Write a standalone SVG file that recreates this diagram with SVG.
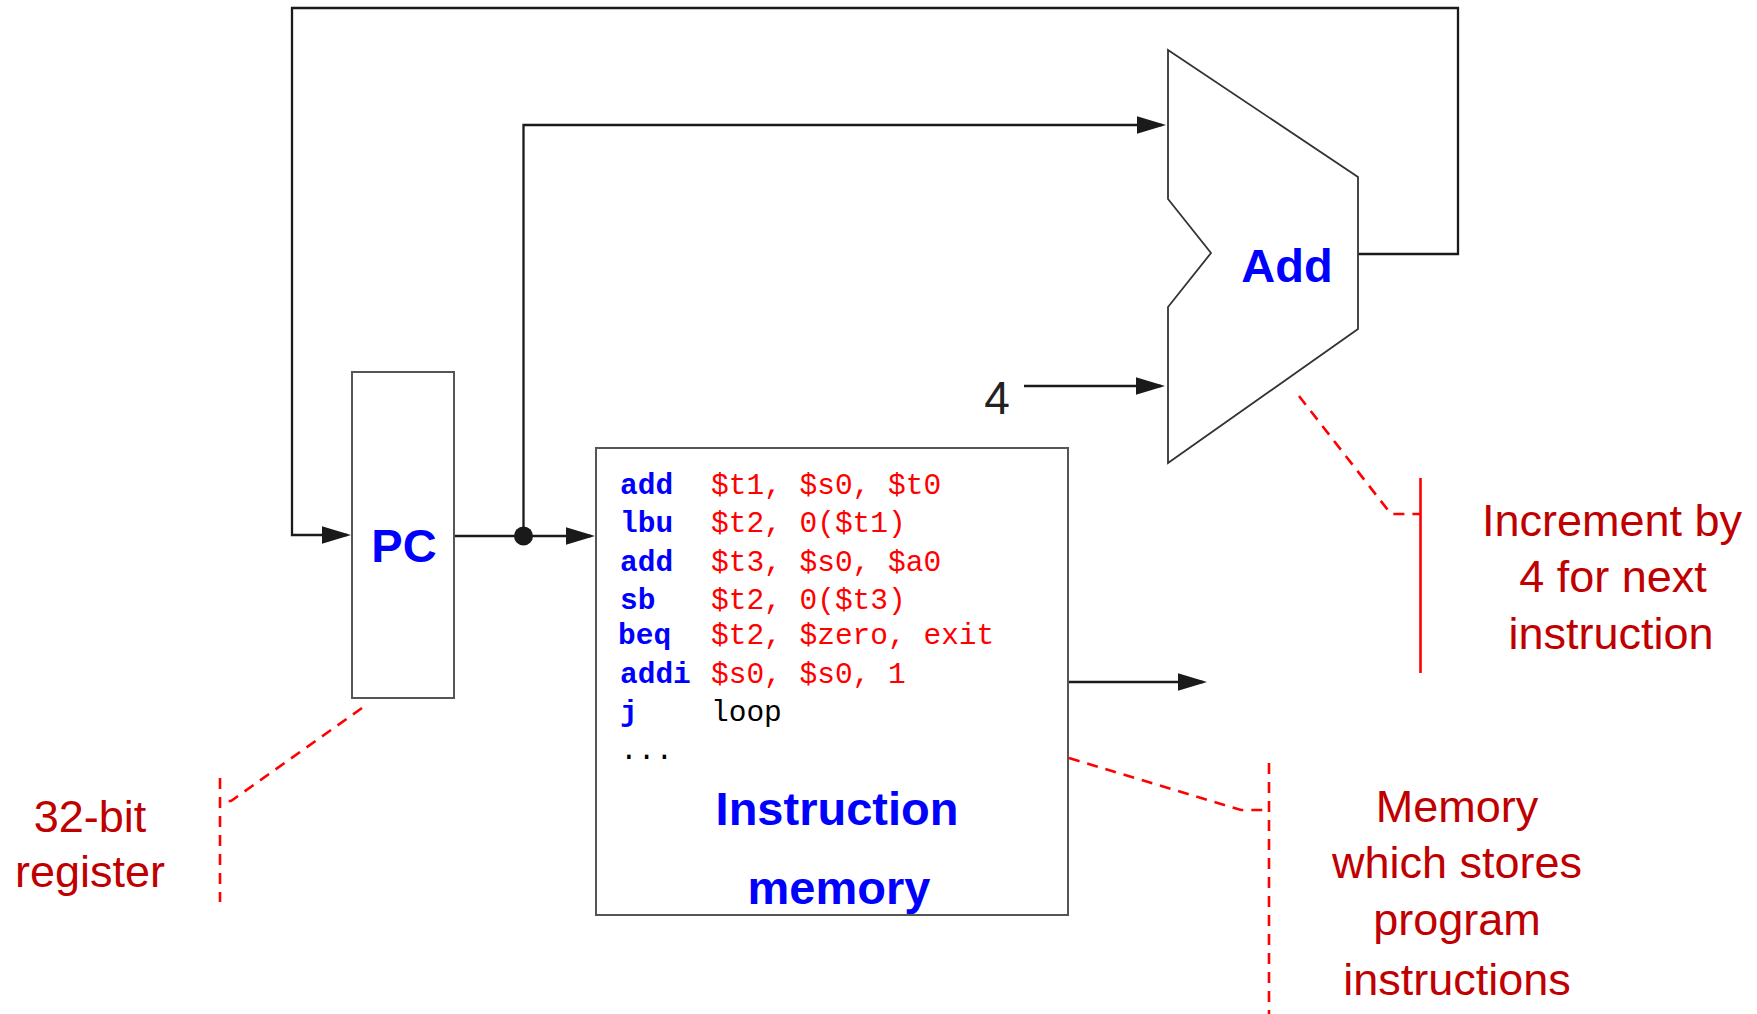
<svg xmlns="http://www.w3.org/2000/svg" width="1757" height="1014" viewBox="0 0 1757 1014">
<style>
.wire{fill:none;stroke:#1a1a1a;stroke-width:2.3}
.box{fill:#fff;stroke:#555;stroke-width:2}
.alu{fill:#fff;stroke:#333;stroke-width:1.8;stroke-linejoin:miter}
.lbl{font-family:"Liberation Sans",Arial,sans-serif;font-weight:bold;fill:#0000ff;font-size:47px;text-anchor:middle}
.op{font-family:"Liberation Mono","Courier New",monospace;font-weight:bold;fill:#0000ff;font-size:29.5px}
.arg{font-family:"Liberation Mono","Courier New",monospace;fill:#ff0000;font-size:29.5px}
.plain{font-family:"Liberation Mono","Courier New",monospace;fill:#000;font-size:29.5px}
.note{font-family:"Liberation Sans",Arial,sans-serif;fill:#c00000;font-size:45px;text-anchor:middle}
.dash{fill:none;stroke:#ff0000;stroke-width:2.6;stroke-dasharray:11 8}
.solid{fill:none;stroke:#ff0000;stroke-width:2.6}
</style>
<defs>
<marker id="arr" markerUnits="userSpaceOnUse" markerWidth="29" markerHeight="18" refX="25" refY="8.75" orient="auto">
<path d="M0,0 L29,8.75 L0,17.5 Z" fill="#1a1a1a"/>
</marker>
</defs>
<rect width="1757" height="1014" fill="#fff"/>

<g id="connectors">
<polyline class="wire" points="1358,254 1458,254 1458,8 292,8 292,535 347,535" marker-end="url(#arr)"/>
<line class="wire" x1="454" y1="536" x2="591" y2="536" marker-end="url(#arr)"/>
<polyline class="wire" points="523.5,536 523.5,125 1162,125" marker-end="url(#arr)"/>
<circle cx="523.5" cy="536" r="9.5" fill="#1a1a1a"/>
<line class="wire" x1="1024" y1="386" x2="1161" y2="386" marker-end="url(#arr)"/>
<line class="wire" x1="1068" y1="682" x2="1203" y2="682" marker-end="url(#arr)"/>
</g>

<g id="pc">
<rect class="box" x="352" y="372" width="102" height="326"/>
<text class="lbl" x="404" y="562">PC</text>
</g>

<g id="adder">
<polygon class="alu" points="1168,50 1358,177 1358,329 1168,463 1168,307 1211,253 1168,199"/>
<text class="lbl" x="1287" y="282">Add</text>
</g>

<g id="const4">
<text x="997" y="414" font-family="'Liberation Sans',Arial,sans-serif" font-size="46" fill="#222" text-anchor="middle">4</text>
</g>

<g id="instruction-memory">
<rect class="box" x="596" y="448" width="472" height="467"/>
<text class="op" x="620" y="494">add</text><text class="arg" x="711" y="494">$t1, $s0, $t0</text>
<text class="op" x="620" y="532">lbu</text><text class="arg" x="711" y="532">$t2, 0($t1)</text>
<text class="op" x="620" y="571">add</text><text class="arg" x="711" y="571">$t3, $s0, $a0</text>
<text class="op" x="620" y="609">sb</text><text class="arg" x="711" y="609">$t2, 0($t3)</text>
<text class="op" x="618" y="644">beq</text><text class="arg" x="711" y="644">$t2, $zero, exit</text>
<text class="op" x="620" y="683">addi</text><text class="arg" x="711" y="683">$s0, $s0, 1</text>
<text class="op" x="620" y="721">j</text><text class="plain" x="711" y="721">loop</text>
<text class="plain" x="620" y="759">...</text>
<text class="lbl" x="837" y="825">Instruction</text>
<text class="lbl" x="839" y="904">memory</text>
</g>

<g id="note-register">
<polyline class="dash" points="362,708 231,801 220,801"/>
<line class="dash" x1="220" y1="778" x2="220" y2="902"/>
<text class="note" x="90" y="832">32-bit</text>
<text class="note" x="90" y="887">register</text>
</g>

<g id="note-increment">
<polyline class="dash" points="1299,396 1391,514 1420,514"/>
<line class="solid" x1="1420.5" y1="478" x2="1420.5" y2="673"/>
<text class="note" x="1612" y="536">Increment by</text>
<text class="note" x="1613" y="592">4 for next</text>
<text class="note" x="1611" y="649">instruction</text>
</g>

<g id="note-memory">
<polyline class="dash" points="1069,758 1241,810 1269,810"/>
<line class="dash" x1="1269" y1="763" x2="1269" y2="1014"/>
<text class="note" x="1457" y="822">Memory</text>
<text class="note" x="1457" y="878">which stores</text>
<text class="note" x="1457" y="935">program</text>
<text class="note" x="1457" y="995">instructions</text>
</g>
</svg>
